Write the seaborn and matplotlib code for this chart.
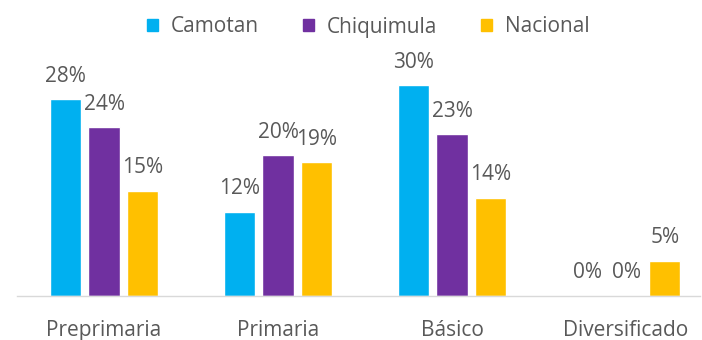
import matplotlib
matplotlib.use("Agg")
import matplotlib.pyplot as plt
import seaborn as sns
import pandas as pd

categories = ["Preprimaria", "Primaria", "Básico", "Diversificado"]
series = ["Camotan", "Chiquimula", "Nacional"]
camotan = [28, 12, 30, 0]
chiquimula = [24, 20, 23, 0]
nacional = [15, 19, 14, 5]
colors = ["#00B0F0", "#7030A0", "#FFC000"]

sns.set_theme(style="white")
plt.rcParams["font.family"] = ["Open Sans", "DejaVu Sans"]
text_color = "#595959"
fs = 15

df = pd.DataFrame({
    "nivel": categories * 3,
    "serie": [s for s in series for _ in categories],
    "valor": camotan + chiquimula + nacional,
})

fig = plt.figure(figsize=(7.02, 3.4), dpi=100)
ax = fig.add_axes([17 / 702, 44 / 340, (700 - 17) / 702, 246 / 340])

sns.barplot(data=df, x="nivel", y="valor", hue="serie", order=categories,
            hue_order=series, palette=colors, width=0.67, gap=0.2,
            saturation=1, legend=False, ax=ax)

for container in ax.containers:
    ax.bar_label(container, labels=[f"{v:.0f}%" for v in container.datavalues],
                 padding=9, fontsize=fs, color=text_color)

ax.set_xlim(-0.5, 3.425)
ax.set_ylim(0, 35)
ax.set_xlabel("")
ax.set_ylabel("")
ax.set_yticks([])
ax.tick_params(axis="x", length=0, pad=17, labelsize=fs, labelcolor=text_color)
for side in ["top", "right", "left"]:
    ax.spines[side].set_visible(False)
ax.spines["bottom"].set_color("#D9D9D9")
ax.spines["bottom"].set_linewidth(1)

handles = [plt.Rectangle((0, 0), 1, 1, color=c) for c in colors]
fig.legend(handles, series, loc="center", bbox_to_anchor=(368 / 702, 1 - 27 / 340),
           ncol=3, frameon=False, fontsize=fs, labelcolor=text_color,
           handlelength=0.55, handleheight=0.55, handletextpad=0.6,
           columnspacing=2.1)

fig.savefig("out.png", dpi=100)
